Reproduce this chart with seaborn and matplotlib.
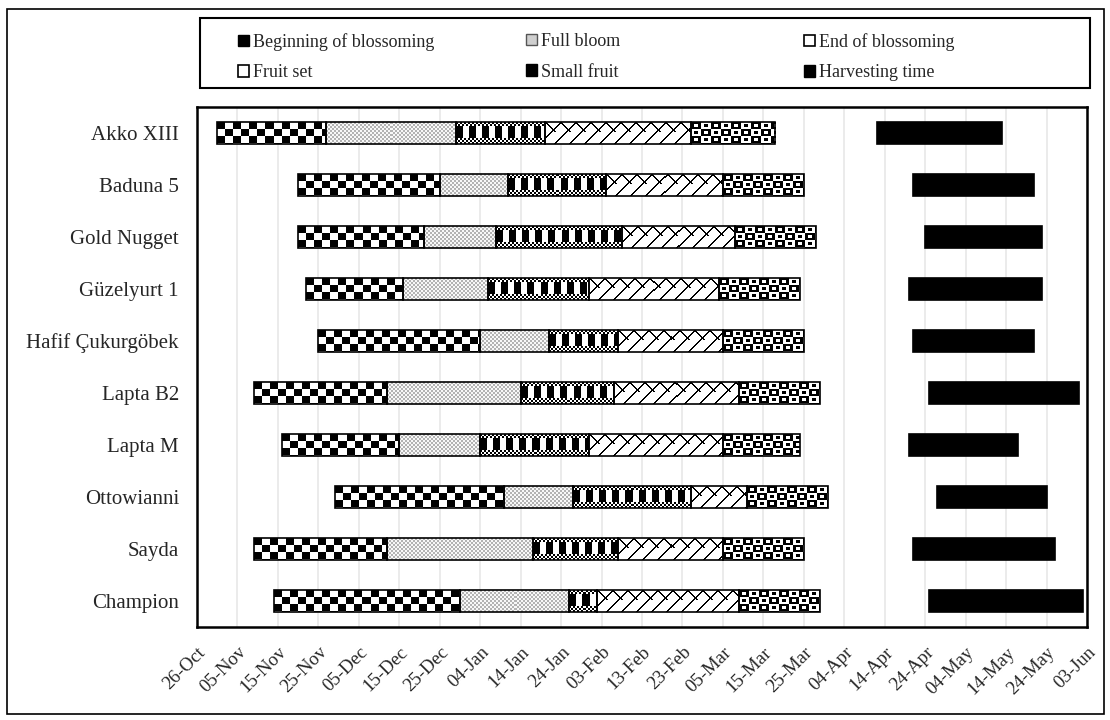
import matplotlib
matplotlib.use("Agg")
import matplotlib.dates as mdates
import matplotlib.pyplot as plt
import matplotlib.transforms as mtransforms
import numpy as np
import pandas as pd
import seaborn as sns
from matplotlib.patches import Patch, Rectangle

# varieties, top to bottom
varieties = [
    "Akko XIII", "Baduna 5", "Gold Nugget", "Güzelyurt 1", "Hafif Çukurgöbek",
    "Lapta B2", "Lapta M", "Ottowianni", "Sayda", "Champion",
]

# phase boundary dates
bloom_start = ["2018-10-31", "2018-11-20", "2018-11-20", "2018-11-22", "2018-11-25",
               "2018-11-09", "2018-11-16", "2018-11-29", "2018-11-09", "2018-11-14"]
full_bloom = ["2018-11-27", "2018-12-25", "2018-12-21", "2018-12-16", "2019-01-04",
              "2018-12-12", "2018-12-15", "2019-01-10", "2018-12-12", "2018-12-30"]
end_bloom = ["2018-12-29", "2019-01-11", "2019-01-08", "2019-01-06", "2019-01-21",
             "2019-01-14", "2019-01-04", "2019-01-27", "2019-01-17", "2019-01-26"]
fruit_set = ["2019-01-20", "2019-02-04", "2019-02-08", "2019-01-31", "2019-02-07",
             "2019-02-06", "2019-01-31", "2019-02-25", "2019-02-07", "2019-02-02"]
small_fruit = ["2019-02-25", "2019-03-05", "2019-03-08", "2019-03-04", "2019-03-05",
               "2019-03-09", "2019-03-05", "2019-03-11", "2019-03-05", "2019-03-09"]
small_fruit_end = ["2019-03-18", "2019-03-25", "2019-03-28", "2019-03-24", "2019-03-25",
                   "2019-03-29", "2019-03-24", "2019-03-31", "2019-03-25", "2019-03-29"]
harvest_start = ["2019-04-12", "2019-04-21", "2019-04-24", "2019-04-20", "2019-04-21",
                 "2019-04-25", "2019-04-20", "2019-04-27", "2019-04-21", "2019-04-25"]
harvest_end = ["2019-05-13", "2019-05-21", "2019-05-23", "2019-05-23", "2019-05-21",
               "2019-06-01", "2019-05-17", "2019-05-24", "2019-05-26", "2019-06-02"]

phase_names = ["Beginning of blossoming", "Full bloom", "End of blossoming",
               "Fruit set", "Small fruit", "Harvesting time"]

tick_labels = ["26-Oct", "05-Nov", "15-Nov", "25-Nov", "05-Dec", "15-Dec", "25-Dec",
               "04-Jan", "14-Jan", "24-Jan", "03-Feb", "13-Feb", "23-Feb", "05-Mar",
               "15-Mar", "25-Mar", "04-Apr", "14-Apr", "24-Apr", "04-May", "14-May",
               "24-May", "03-Jun"]


def to_num(dates):
    return mdates.date2num(pd.to_datetime(dates))


# pixel fill patterns (0 = black, 1 = white)
def pat_begin(w, h):
    iy, ix = np.indices((h, w))
    return (((ix // 8) + (iy // 7)) % 2).astype(float)


def pat_full(w, h):
    iy, ix = np.indices((h, w))
    return np.where(((ix // 2) + (iy // 2)) % 2 == 0, 0.7, 0.97)


def pat_end(w, h):
    iy, ix = np.indices((h, w))
    fine = (((ix // 2) + (iy // 2)) % 2).astype(float)
    blocks = np.where(ix % 13 < 7, 0.0, 1.0)
    band = (iy < 4) | (iy >= h - 6)
    return np.where(band, fine, blocks)


def pat_set(w, h):
    iy, ix = np.indices((h, w))
    lines = (ix + iy) % 15 < 2
    back = ((ix - iy) % 15 < 2) & (iy < h * 0.45)
    return np.where(lines | back, 0.0, 1.0)


def pat_small(w, h):
    iy, ix = np.indices((h, w))
    cell = ((ix // 10) + (iy // 7)) % 2
    dx = ix % 10 - 4.5
    dy = (iy % 7 - 3) * 1.2
    dot = np.sqrt(dx ** 2 + dy ** 2) < 2.2
    return np.where(dot, 1 - cell, cell).astype(float)


patterns = [pat_begin, pat_full, pat_end, pat_set, pat_small, None]
starts = [bloom_start, full_bloom, end_bloom, fruit_set, small_fruit, harvest_start]
ends = [full_bloom, end_bloom, fruit_set, small_fruit, small_fruit_end, harvest_end]

sns.set_style("white")
plt.rcParams["font.family"] = ["Liberation Serif", "DejaVu Serif"]

fig, ax = plt.subplots(figsize=(11.1, 7.2), dpi=100)
fig.subplots_adjust(left=197 / 1110, right=1087 / 1110, top=1 - 107 / 720, bottom=1 - 627 / 720)

x_min, x_max = to_num(["2018-10-26", "2019-06-03"])
px_per_day = (1087 - 197) / (x_max - x_min)
px_per_row = 52

for name, s, e, pat in zip(phase_names, starts, ends, patterns):
    s_num = to_num(s)
    dur = to_num(e) - s_num
    sns.barplot(x=dur, y=varieties, orient="h", width=0.42,
                color="black" if pat is None else "white", saturation=1,
                edgecolor="black", linewidth=1.2, ax=ax)
    for bar, start in zip(ax.containers[-1], s_num):
        bar.set_x(start)
        bar.set_zorder(3)
        if pat is None:
            continue
        x0, y0 = bar.get_x(), bar.get_y()
        w, h = bar.get_width(), bar.get_height()
        arr = pat(max(int(round(w * px_per_day)), 1), max(int(round(h * px_per_row)), 1))
        ax.imshow(arr, cmap="gray", vmin=0, vmax=1, extent=(x0, x0 + w, y0 + h, y0),
                  origin="upper", aspect="auto", interpolation="nearest", zorder=2)
        bar.set_facecolor("none")

ax.set_xlim(x_min, x_max)
ax.set_ylim(9.5, -0.5)

tick_pos = to_num(pd.date_range("2018-10-26", periods=len(tick_labels), freq="10D"))
ax.set_xticks(tick_pos)
ax.set_xticklabels(tick_labels, rotation=45, ha="right", rotation_mode="anchor", fontsize=13.5)
shift = mtransforms.ScaledTranslation(6 / 100, 0, fig.dpi_scale_trans)
for lbl in ax.get_xticklabels():
    lbl.set_transform(lbl.get_transform() + shift)
ax.tick_params(axis="y", labelsize=15, length=0, pad=13)
ax.tick_params(axis="x", length=0, pad=12)
ax.set_xlabel("")
ax.set_ylabel("")

ax.xaxis.grid(True, color="#e8e8e8", linewidth=1.2)
ax.yaxis.grid(False)
ax.set_axisbelow(True)
for sp in ax.spines.values():
    sp.set_visible(True)
    sp.set_color("black")
    sp.set_linewidth(1.8)

# legend, laid out in three columns like the original
handles = [
    Patch(facecolor="black", edgecolor="black", hatch="++", label=phase_names[0]),
    Patch(facecolor="#cfcfcf", edgecolor="#555555", label=phase_names[1]),
    Patch(facecolor="white", edgecolor="black", linewidth=1.2, label=phase_names[2]),
    Patch(facecolor="white", edgecolor="black", linewidth=1.2, label=phase_names[3]),
    Patch(facecolor="black", edgecolor="black", label=phase_names[4]),
    Patch(facecolor="black", edgecolor="black", label=phase_names[5]),
]
col_x = [238 / 1110, 526 / 1110, 804 / 1110]
for k in range(3):
    fig.legend(handles=[handles[k], handles[k + 3]], loc="upper left",
               bbox_to_anchor=(col_x[k], 1 - 33 / 720), frameon=False,
               fontsize=13, handlelength=0.6, handleheight=0.6, handletextpad=0.25,
               labelspacing=0.75, borderpad=0, borderaxespad=0)

fig.add_artist(Rectangle((200 / 1110, 1 - 88 / 720), 890 / 1110, 70 / 720,
                         transform=fig.transFigure, fill=False, edgecolor="black", linewidth=1.5))
fig.add_artist(Rectangle((7 / 1110, 1 - 714 / 720), 1097 / 1110, 705 / 720,
                         transform=fig.transFigure, fill=False, edgecolor="black", linewidth=1.2))

fig.savefig("out.png", dpi=100)
